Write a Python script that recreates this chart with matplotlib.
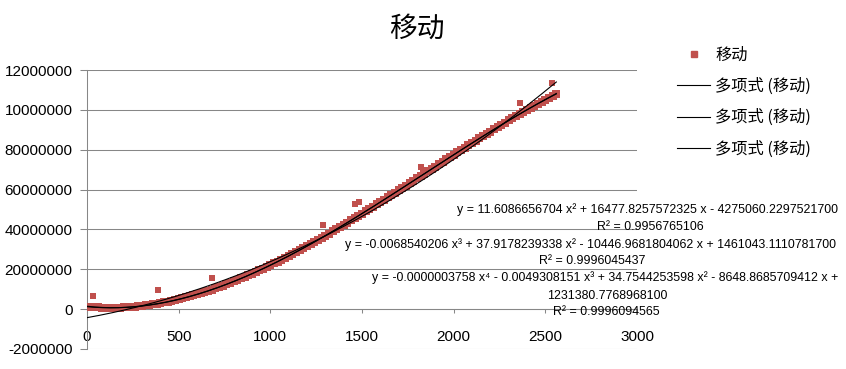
import matplotlib
matplotlib.use("Agg")
import matplotlib.pyplot as plt
import numpy as np
from matplotlib.lines import Line2D

# 移动 series, x and y (y in millions)
x_vals = [
    0, 20, 40, 60, 80, 100, 120, 140, 160, 180,
    200, 220, 240, 260, 280, 300, 320, 340, 360, 380,
    400, 420, 440, 460, 480, 500, 520, 540, 560, 580,
    600, 620, 640, 660, 680, 700, 720, 740, 760, 780,
    800, 820, 840, 860, 880, 900, 920, 940, 960, 980,
    1000, 1020, 1040, 1060, 1080, 1100, 1120, 1140, 1160, 1180,
    1200, 1220, 1240, 1260, 1280, 1300, 1320, 1340, 1360, 1380,
    1400, 1420, 1440, 1460, 1480, 1500, 1520, 1540, 1560, 1580,
    1600, 1620, 1640, 1660, 1680, 1700, 1720, 1740, 1760, 1780,
    1800, 1820, 1840, 1860, 1880, 1900, 1920, 1940, 1960, 1980,
    2000, 2020, 2040, 2060, 2080, 2100, 2120, 2140, 2160, 2180,
    2200, 2220, 2240, 2260, 2280, 2300, 2320, 2340, 2360, 2380,
    2400, 2420, 2440, 2460, 2480, 2500, 2520, 2540, 2560,
]
y_vals_m = [
    1.23, 1.07, 0.94, 0.84, 0.76, 0.71, 0.69, 0.69, 0.72, 0.77,
    0.85, 0.96, 1.09, 1.24, 1.42, 1.63, 1.86, 2.11, 2.39, 2.69,
    3.01, 3.35, 3.72, 4.11, 4.52, 4.96, 5.42, 5.90, 6.40, 6.91,
    7.44, 7.98, 8.54, 9.11, 9.76, 10.43, 11.10, 11.78, 12.47, 13.17,
    13.88, 14.63, 15.39, 16.16, 16.95, 17.76, 18.60, 19.44, 20.29, 21.15,
    22.03, 22.94, 23.85, 24.77, 25.71, 26.66, 27.63, 28.61, 29.59, 30.59,
    31.60, 32.63, 33.66, 34.70, 35.76, 36.82, 37.90, 38.98, 40.07, 41.17,
    42.27, 43.39, 44.51, 45.64, 46.77, 47.91, 49.06, 50.21, 51.37, 52.53,
    53.70, 54.87, 56.05, 57.23, 58.41, 59.60, 60.79, 61.98, 63.18, 64.37,
    65.57, 66.76, 67.96, 69.15, 70.35, 71.54, 72.73, 73.92, 75.11, 76.30,
    77.49, 78.67, 79.84, 81.02, 82.19, 83.37, 84.52, 85.67, 86.81, 87.96,
    89.11, 90.23, 91.34, 92.46, 93.57, 94.68, 95.75, 96.82, 97.89, 98.96,
    100.03, 101.04, 102.05, 103.07, 104.08, 105.10, 106.07, 107.03, 107.99,
]
# scattered points off the main band
outlier_x = [31, 387, 683, 1285, 1461, 1483, 1821, 2361, 2539]
outlier_y_m = [6.7, 9.7, 15.5, 42.2, 52.7, 53.7, 71.3, 103.6, 113.4]

# trendline coefficients (highest power first), as shown on the chart
poly2 = [11.6086656704, 16477.8257572325, -4275060.2297521700]
poly3 = [-0.0068540206, 37.9178239338, -10446.9681804062, 1461043.1110781700]
poly4 = [-0.0000003758, -0.0049308151, 34.7544253598, -8648.8685709412, 1231380.7768968100]

y_ticks = [-20000000, 0, 20000000, 40000000, 60000000, 80000000, 100000000, 120000000]
y_tick_labels = ["-2000000", "0", "20000000", "40000000", "60000000",
                 "80000000", "10000000", "12000000"]
x_ticks = [0, 500, 1000, 1500, 2000, 2500, 3000]

series_name = "移动"
trend_name = "多项式 (移动)"
eq_lines = [
    "y = 11.6086656704 x² + 16477.8257572325 x - 4275060.2297521700",
    "R² = 0.9956765106",
    "y = -0.0068540206 x³ + 37.9178239338 x² - 10446.9681804062 x + 1461043.1110781700",
    "R² = 0.9996045437",
    "y = -0.0000003758 x⁴ - 0.0049308151 x³ + 34.7544253598 x² - 8648.8685709412 x +",
    "1231380.7768968100",
    "R² = 0.9996094565",
]

W, H = 846, 369
red = "#C0504D"
grid_gray = "#878787"

plt.rcParams['font.family'] = ['Liberation Sans', 'Noto Sans CJK SC', 'DejaVu Sans']

fig = plt.figure(figsize=(W / 100, H / 100), dpi=100)
ax = fig.add_axes([87 / W, 1 - 349 / H, (637 - 87) / W, (349 - 70) / H])

xs = np.array(x_vals)
ys = np.array(y_vals_m) * 1e6
ax.scatter(xs, ys, marker='s', s=26, color=red, linewidths=0, zorder=3)
ax.scatter(outlier_x, np.array(outlier_y_m) * 1e6, marker='s', s=20,
           color=red, linewidths=0, zorder=3)

xfit = np.linspace(min(xs), max(xs), 300)
for coeffs in (poly2, poly3, poly4):
    ax.plot(xfit, np.polyval(coeffs, xfit), color="black", lw=0.8, zorder=4)

ax.set_xlim(0, 3000)
ax.set_ylim(-20000000, 120000000)
ax.set_yticks(y_ticks)
ax.set_yticklabels(y_tick_labels)
ax.set_xticks(x_ticks)
ax.set_xticklabels([str(v) for v in x_ticks])

ax.grid(axis='y', color=grid_gray, lw=0.75)
ax.set_axisbelow(True)
for side in ("top", "right"):
    ax.spines[side].set_visible(False)
ax.spines["left"].set_color(grid_gray)
ax.spines["left"].set_linewidth(0.75)
ax.spines["bottom"].set_position(("data", 0))
ax.spines["bottom"].set_color(grid_gray)
ax.spines["bottom"].set_linewidth(0.75)
ax.tick_params(axis='y', length=5, width=0.75, color=grid_gray, pad=5.5, labelsize=11)
ax.tick_params(axis='x', length=3, width=0.75, color=grid_gray, pad=12, labelsize=11)

fig.text(417 / W, 1 - 29 / H, series_name, ha='center', va='center', fontsize=20,
         family=['Noto Sans CJK SC', 'DejaVu Sans'])

# trendline labels
eq_pos = [(647, 210), (650, 227), (590, 245), (592, 261), (605, 278), (607, 296), (606, 312)]
for txt, (px, py) in zip(eq_lines, eq_pos):
    fig.text(px / W, 1 - py / H, txt, ha='center', va='center', fontsize=8.9,
             family=['Liberation Sans', 'DejaVu Sans'])

handles = [Line2D([], [], marker='s', color=red, linestyle='None', markersize=3.8)]
handles += [Line2D([], [], color="black", lw=0.8) for _ in range(3)]
labels = [series_name] + [trend_name] * 3
fig.legend(handles, labels, loc='upper left', bbox_to_anchor=(677 / W, 1 - 47 / H),
           frameon=False, borderpad=0, borderaxespad=0,
           handlelength=2.05, handletextpad=0.3, labelspacing=0.86,
           prop={'family': ['Noto Sans CJK SC', 'DejaVu Sans'], 'size': 11.7})

fig.savefig("out.png", dpi=100)
